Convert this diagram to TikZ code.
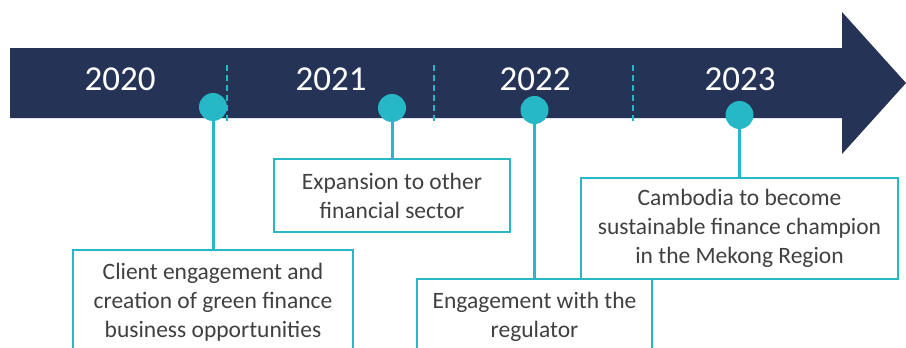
\documentclass[tikz,border=0pt]{standalone}
\usepackage{fontspec}
\setmainfont{Carlito}
\definecolor{navy}{HTML}{253356}
\definecolor{teal}{HTML}{26B8C6}
\definecolor{txt}{HTML}{404040}
\pgfdeclarelayer{background}
\pgfsetlayers{background,main}
\tikzset{
  year/.style={text=white,font=\fontsize{35}{40}\selectfont,inner sep=0pt},
  dot/.style={circle,fill=teal,minimum size=28pt,inner sep=0pt},
  sep/.style={teal,line width=1.2pt,dash pattern=on 6pt off 4pt},
  link/.style={teal,line width=3pt},
  box/.style={draw=teal,line width=2pt,fill=white,text=txt,align=center,
    font=\fontsize{23.5}{29}\selectfont,inner sep=0pt,anchor=north}
}
\begin{document}
\begin{tikzpicture}[x=1pt,y=-1pt]
\useasboundingbox (0,0) rectangle (906,348);
\node[year] (y0) at (120,79) {2020};
\node[year] (y1) at (331,79) {2021};
\node[year] (y2) at (535,79) {2022};
\node[year] (y3) at (740,79) {2023};
\node[box,minimum width=280pt,minimum height=104pt] (b1) at (213,249) {Client engagement and\\creation of green finance\\business opportunities};
\node[box,minimum width=236pt,minimum height=73pt] (b2) at (392,158) {Expansion to other\\financial sector};
\node[box,minimum width=235pt,minimum height=75pt] (b3) at (534.5,278) {Engagement with the\\regulator};
\node[box,minimum width=317pt,minimum height=101pt] (b4) at (739.5,177) {Cambodia to become\\sustainable finance champion\\in the Mekong Region};
\node[dot] (c1) at (213,107) {};
\node[dot] (c2) at (392,108) {};
\node[dot] (c3) at (534.5,110) {};
\node[dot] (c4) at (739.5,115) {};
\begin{pgfonlayer}{background}
\fill[navy] (10,48) -- (842,48) -- (842,12) -- (906,83) -- (842,154) -- (842,118) -- (10,118) -- cycle;
\foreach \x in {227,434,633} \draw[sep] (\x,65) -- (\x,122);
\draw[link] (c1.center) -- (b1.north);
\draw[link] (c2.center) -- (b2.north);
\draw[link] (c3.center) -- (b3.north);
\draw[link] (c4.center) -- (b4.north);
\end{pgfonlayer}
\end{tikzpicture}
\end{document}
